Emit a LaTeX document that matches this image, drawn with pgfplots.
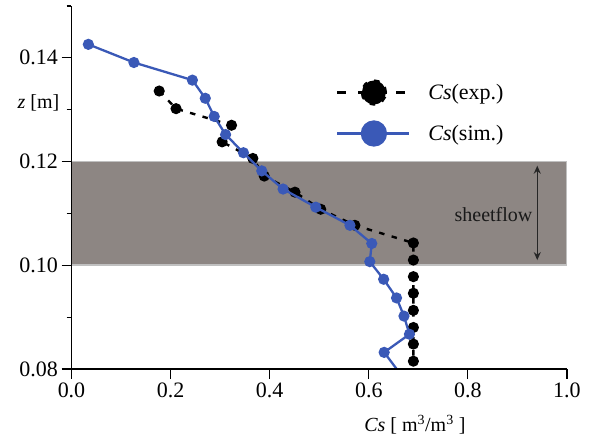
\documentclass[border=0pt]{standalone}
\usepackage{pgfplots}
\pgfplotsset{compat=1.18}
\usepackage{pgfplotstable}
\usepackage{fontspec}
\setmainfont{Liberation Serif}
\usetikzlibrary{arrows.meta}
\definecolor{simblue}{RGB}{58,89,183}
\definecolor{bandgray}{RGB}{141,134,131}
\definecolor{bandedge}{RGB}{192,192,192}

\pgfplotstableread{
x y
0.034 0.1426
0.126 0.1391
0.244 0.1357
0.270 0.1322
0.288 0.1287
0.311 0.1252
0.347 0.1217
0.384 0.1182
0.427 0.1147
0.493 0.1112
0.562 0.1077
0.606 0.1042
0.602 0.1007
0.630 0.0973
0.656 0.0937
0.671 0.0902
0.682 0.0867
0.631 0.0832
}\simdata

\pgfplotstableread{
x y
0.631 0.0832
0.664 0.0790
}\simtail

\pgfplotstableread{
x y
0.177 0.1336
0.211 0.1302
0.323 0.1270
0.304 0.1238
0.366 0.1206
0.389 0.1172
0.451 0.1141
0.503 0.1108
0.572 0.1077
0.690 0.1043
0.690 0.1010
0.690 0.0978
0.690 0.0946
0.690 0.0913
0.690 0.0880
0.690 0.0848
0.690 0.0815
}\expdata

\begin{document}
\begin{tikzpicture}
\begin{axis}[
  scale only axis, width=495.5bp, height=363bp,
  xmin=0, xmax=1, ymin=0.08, ymax=0.15,
  axis x line*=bottom, axis y line*=left,
  axis line style={line width=1.2bp, -},
  axis on top,
  xtick={0,0.2,0.4,0.6,0.8,1.0},
  ytick={0.08,0.10,0.12,0.14},
  minor ytick={0.09,0.11,0.13,0.15},
  tick align=outside,
  major tick length=10bp, minor tick length=5bp,
  tick style={line width=1.2bp, black},
  scaled ticks=false,
  /pgf/number format/assume math mode=true,
  xticklabel style={/pgf/number format/fixed, /pgf/number format/fixed zerofill, /pgf/number format/precision=1},
  yticklabel style={/pgf/number format/fixed, /pgf/number format/fixed zerofill, /pgf/number format/precision=2},
  ticklabel style={font=\fontsize{22bp}{24bp}\selectfont},
  clip mode=individual,
  legend cell align=left,
  legend style={draw=none, fill=none, inner sep=0pt, outer sep=0pt,
    row sep=0pt, column sep=0pt,
    font=\fontsize{22bp}{24bp}\selectfont,
    nodes={inner sep=0pt},
    at={(axis cs:0.5338,0.13727)}, anchor=north west},
]
\addplot[fill=bandgray, draw=bandedge, line width=1.6bp, forget plot]
  coordinates {(0,0.10) (1,0.10) (1,0.12) (0,0.12) (0,0.10)};

\addplot[black, line width=2.4bp, dash pattern=on 5.5bp off 7.5bp,
  mark=*, mark size=4.3bp, mark options={solid, fill=black, draw=black},
  legend image code/.code={
    \path[draw=none, fill=none] (0bp,-20.5bp) rectangle (91bp,20.5bp);
    \draw[black, solid, line width=2.8bp] (0bp,0bp) -- (9bp,0bp) (21bp,0bp) -- (27bp,0bp) (46bp,0bp) -- (50bp,0bp) (59bp,0bp) -- (68bp,0bp);
    \fill[black] (36.5bp,0bp) circle (12bp);
  }] table[x=x,y=y] {\expdata};
\addlegendentry{\textit{Cs}(exp.)}

\addplot[simblue, line width=2.3bp, solid, forget plot] table[x=x,y=y] {\simtail};
\addplot[simblue, line width=2.3bp, solid,
  mark=*, mark size=4.4bp, mark options={fill=simblue, draw=simblue},
  legend image code/.code={
    \path[draw=none, fill=none] (0bp,-20.5bp) rectangle (91bp,20.5bp);
    \draw[simblue, solid, line width=2.8bp] (0bp,0bp) -- (72bp,0bp);
    \fill[simblue] (36.5bp,0bp) circle (12bp);
  }] table[x=x,y=y] {\simdata};
\addlegendentry{\textit{Cs}(sim.)}

\draw[{Stealth[length=8bp,width=7bp]}-{Stealth[length=8bp,width=7bp]}, line width=1.2bp, black!85]
  (axis cs:0.940,0.1192) -- (axis cs:0.940,0.1010);
\node[font=\fontsize{20bp}{22bp}\selectfont, text=black!90] at (axis cs:0.8517,0.1098) {sheetflow};
\node[font=\fontsize{20bp}{22bp}\selectfont] at (axis cs:-0.0666,0.13125) {\textit{z} [m]};
\node[font=\fontsize{20bp}{22bp}\selectfont] at (axis cs:0.693,0.06923) {\textit{Cs} [ m\textsuperscript{3}/m\textsuperscript{3} ]};

\coordinate (BL) at (rel axis cs:-0.1443,-0.1956);
\coordinate (TR) at (rel axis cs:1.0545,1.0165);
\end{axis}
\pgfresetboundingbox
\path[use as bounding box] (BL) rectangle (TR);
\end{tikzpicture}
\end{document}
